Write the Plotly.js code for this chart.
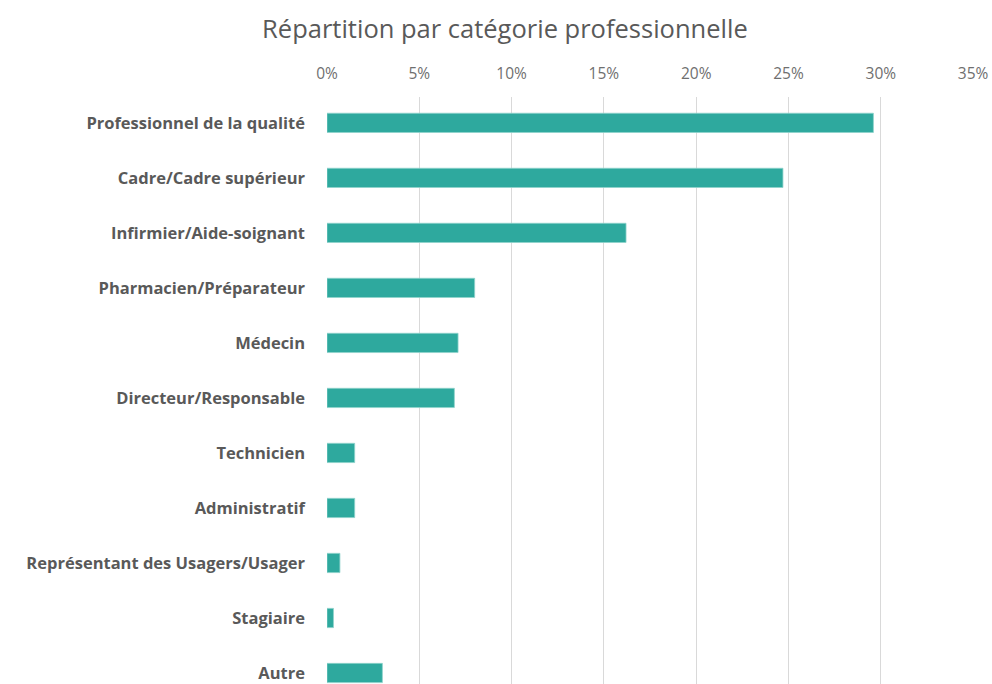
<!DOCTYPE html>
<html>
<head>
<meta charset="utf-8">
<script src="https://cdn.plot.ly/plotly-3.0.1.min.js"></script>
<style>html,body{margin:0;padding:0;background:#fff;}#chart{width:992px;height:684px;}</style>
</head>
<body>
<div id="chart"></div>
<script>
const categories = [
  "Professionnel de la qualité",
  "Cadre/Cadre supérieur",
  "Infirmier/Aide-soignant",
  "Pharmacien/Préparateur",
  "Médecin",
  "Directeur/Responsable",
  "Technicien",
  "Administratif",
  "Représentant des Usagers/Usager",
  "Stagiaire",
  "Autre"
];
const shares = [0.296, 0.247, 0.162, 0.080, 0.071, 0.069, 0.015, 0.015, 0.007, 0.0035, 0.030];
const tickValues = [0, 0.05, 0.10, 0.15, 0.20, 0.25, 0.30, 0.35];
const tickLabels = ["0%", "5%", "10%", "15%", "20%", "25%", "30%", "35%"];
const chartTitle = "Répartition par catégorie professionnelle";

const trace = {
  type: "bar",
  orientation: "h",
  x: shares,
  y: categories,
  marker: {color: "#2EA99E", line: {color: "#8fd3cb", width: 0.8}},
  hoverinfo: "x+y"
};

const layout = {
  width: 992,
  height: 684,
  margin: {l: 327, r: 18, t: 97, b: 0},
  paper_bgcolor: "#ffffff",
  plot_bgcolor: "#ffffff",
  title: {
    text: chartTitle,
    font: {family: "Open Sans, sans-serif", size: 25.5, color: "#595959"},
    x: 0.509, xref: "container", xanchor: "center",
    y: 1 - 29/684, yref: "container", yanchor: "middle"
  },
  bargap: 0.65,
  showlegend: false,
  xaxis: {
    side: "top",
    range: [0, 0.3505],
    tickvals: tickValues,
    ticktext: tickLabels,
    showgrid: true,
    gridcolor: "#d9d9d9",
    gridwidth: 1,
    zeroline: false,
    showline: false,
    ticks: "",
    ticklabelstandoff: 14,
    tickfont: {family: "Open Sans, sans-serif", size: 15.5, color: "#6f6f6f"},
    fixedrange: true
  },
  yaxis: {
    type: "category",
    range: [10.2, -0.47],
    showgrid: false,
    zeroline: false,
    showline: false,
    ticks: "",
    ticklabelstandoff: 21,
    tickfont: {family: "Open Sans, sans-serif", size: 16.5, color: "#595959", weight: "bold"},
    fixedrange: true
  }
};

Plotly.newPlot("chart", [trace], layout, {displayModeBar: false, staticPlot: true});
</script>
</body>
</html>
